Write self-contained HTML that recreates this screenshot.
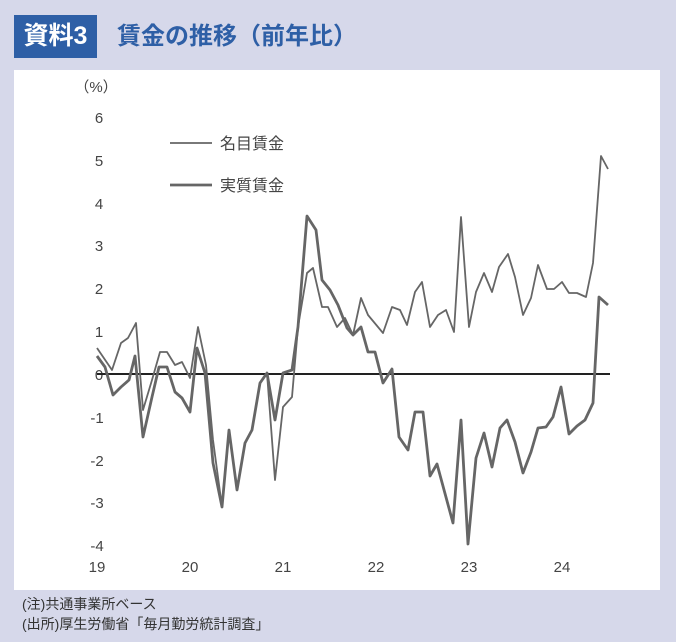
<!DOCTYPE html>
<html><head><meta charset="utf-8"><style>
body{margin:0;width:676px;height:642px;background:#d6d8ea;position:relative;overflow:hidden;font-family:"Liberation Sans","Noto Sans CJK JP",sans-serif}
.box{position:absolute;left:14px;top:15px;width:83px;height:43px;background:#2e5fa6;color:#fff;font-size:25px;line-height:43px;text-align:center;font-weight:bold}
.tt{position:absolute;left:117px;top:15px;line-height:43px;font-size:24px;color:#2e5fa6;font-weight:bold}
.panel{position:absolute;left:14px;top:70px;width:646px;height:520px;background:#fff}
.fn{position:absolute;left:22px;font-size:14px;color:#333}
</style></head><body>
<div class="box">資料3</div>
<div class="tt">賃金の推移（前年比）</div>
<div class="panel"></div>
<svg width="676" height="642" style="position:absolute;left:0;top:0" font-family="Liberation Sans, Noto Sans CJK JP, sans-serif">
<g font-size="15" fill="#444" text-anchor="middle">
<text x="99" y="123">6</text><text x="99" y="166">5</text><text x="99" y="209">4</text><text x="99" y="251">3</text><text x="99" y="294">2</text><text x="99" y="337">1</text><text x="99" y="380">0</text><text x="97" y="423">-1</text><text x="97" y="466">-2</text><text x="97" y="508">-3</text><text x="97" y="551">-4</text>
<text x="97" y="572">19</text><text x="190" y="572">20</text><text x="283" y="572">21</text><text x="376" y="572">22</text><text x="469" y="572">23</text><text x="562" y="572">24</text>
<text x="96" y="92">（%）</text>
</g>
<line x1="97" y1="374" x2="610" y2="374" stroke="#222" stroke-width="2"/>
<g fill="none" stroke="#666" stroke-linejoin="round">
<polyline stroke-width="1.8" points="97,348 112,370 121,343 128,338 136,323 143,410 152,380 160,352 167,352 175,365 182,362 190,378 198,327 206,365 213,440 222,507 229,430 237,490 245,443 252,430 260,383 267,373 275,480 283,407 292,397 298,327 307,273 313,268 322,307 328,307 337,327 345,318 353,335 361,298 368,315 383,333 392,307 400,310 407,325 415,292 422,282 430,327 438,315 446,310 454,332 461,217 469,327 476,292 484,273 492,292 499,267 508,254 515,277 523,315 531,298 538,265 547,289 554,289 562,282 569,293 577,293 586,297 593,263 601,156 608,169"/>
<polyline stroke-width="2.8" points="97,356 105,367 113,395 121,387 129,380 135,356 143,437 152,397 159,367 167,367 175,392 182,398 190,412 197,348 205,373 213,463 222,507 229,430 237,490 245,443 252,430 260,383 267,373 275,420 283,373 292,370 298,327 307,216 316,230 322,280 330,290 338,305 347,328 353,335 361,327 368,352 375,352 383,383 392,369 399,437 408,450 415,412 423,412 430,476 437,464 453,523 461,420 468,544 476,458 484,433 492,467 500,428 507,420 515,442 523,473 531,452 538,428 546,427 553,417 561,387 569,434 577,426 585,420 593,403 599,297 608,305"/>
<line x1="170" y1="143" x2="212" y2="143" stroke-width="1.8"/>
<line x1="170" y1="185" x2="212" y2="185" stroke-width="2.8"/>
</g>
<g font-size="16" fill="#444"><text x="220" y="149">名目賃金</text><text x="220" y="191">実質賃金</text></g>
</svg>
<div class="fn" style="top:594px">(注)共通事業所ベース</div>
<div class="fn" style="top:614px">(出所)厚生労働省「毎月勤労統計調査」</div>
</body></html>
